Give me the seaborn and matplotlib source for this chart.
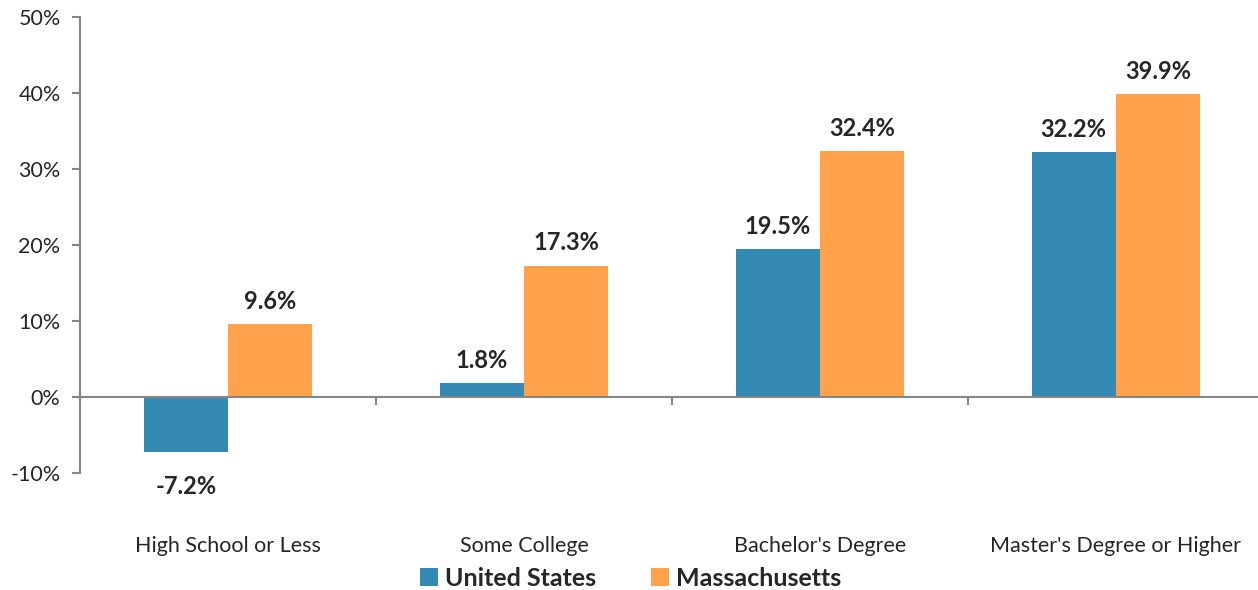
import pandas as pd
import matplotlib.pyplot as plt
import seaborn as sns

# chart data
categories = ["High School or Less", "Some College", "Bachelor's Degree", "Master's Degree or Higher"]
series = ["United States", "Massachusetts"]
us_values = [-7.2, 1.8, 19.5, 32.2]
ma_values = [9.6, 17.3, 32.4, 39.9]
y_ticks = [-10, 0, 10, 20, 30, 40, 50]

df = pd.DataFrame({
    "Category": categories * 2,
    "Region": [series[0]] * 4 + [series[1]] * 4,
    "Change": us_values + ma_values,
})

sns.set_style("white")
plt.rcParams['font.family'] = ['Lato', 'DejaVu Sans']

fig = plt.figure(figsize=(12.58, 5.9), dpi=100)
ax = fig.add_axes([80 / 1258, 1 - 473 / 590, 1 - 80 / 1258, (473 - 17) / 590])

palette = {"United States": "#348AB2", "Massachusetts": "#FFA24B"}
sns.barplot(data=df, x="Category", y="Change", hue="Region", order=categories,
            hue_order=series, palette=palette, width=0.57, saturation=1,
            linewidth=0, ax=ax)

for cont, vals in zip(ax.containers, [us_values, ma_values]):
    labels = ax.bar_label(cont, fmt="%.1f%%", padding=8, fontsize=17, fontweight="bold")
    # negative labels sit a bit further from the bar
    for ann, v in zip(labels, vals):
        if v < 0:
            ann.xyann = (0, -17)

ax.set_ylim(-10, 50)
ax.set_xlim(-0.5, 3.48)
ax.set_yticks(y_ticks)
ax.set_yticklabels([f"{t}%" for t in y_ticks], fontsize=15.5)
ax.set_xlabel("")
ax.set_ylabel("")

gray = "#868686"
for s in ["top", "right"]:
    ax.spines[s].set_visible(False)
ax.spines["left"].set_color(gray)
ax.spines["left"].set_linewidth(1.5)
ax.spines["bottom"].set_position(("data", 0))
ax.spines["bottom"].set_color(gray)
ax.spines["bottom"].set_linewidth(1.5)

ax.tick_params(axis="y", length=6, width=1.5, color=gray, direction="out", left=True, pad=8)
ax.set_xticks([0.5, 1.5, 2.5], minor=True)
ax.tick_params(axis="x", which="minor", length=6, width=1.5, color=gray, direction="out", bottom=True)
ax.tick_params(axis="x", which="major", length=0, pad=100, labelsize=15.5)

ax.legend(loc="center", bbox_to_anchor=(0.5 - 38 / 1178, -105 / 456), ncol=2, frameon=False,
          prop={"weight": "bold", "size": 18}, handlelength=0.7, handleheight=0.7,
          handletextpad=0.3, columnspacing=2.2, borderpad=0)

fig.savefig("out.png", dpi=100)
